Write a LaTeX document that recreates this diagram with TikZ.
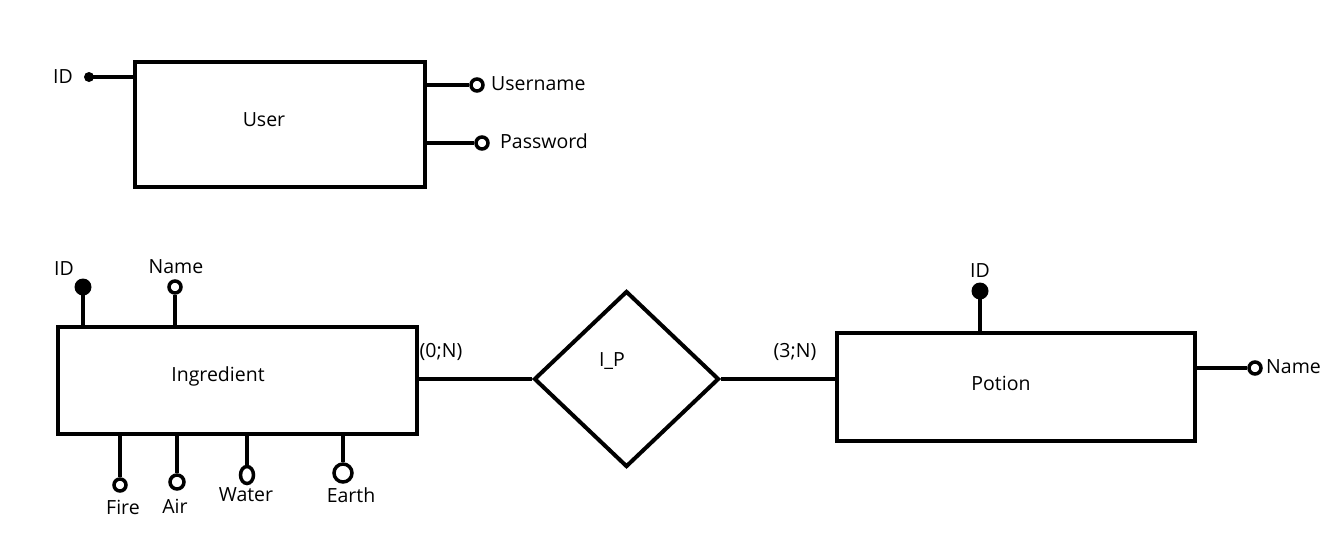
\documentclass[tikz,border=0pt]{standalone}
\usepackage{fontspec}
\setmainfont{Open Sans}
\usetikzlibrary{shapes.geometric}
\begin{document}
\begin{tikzpicture}[x=1pt,y=-1pt,
  ent/.style={draw,line width=4pt,rectangle,inner sep=0pt},
  rel/.style={draw,line width=4pt,diamond,inner sep=0pt},
  conn/.style={line width=4pt},
  keydot/.style={circle,fill,inner sep=0pt,minimum size=#1},
  attrring/.style={circle,draw,line width=3.5pt,inner sep=0pt,minimum size=#1},
  lbl/.style={font=\fontsize{19.5}{21}\selectfont,inner sep=0pt}]
\useasboundingbox (0,0) rectangle (1336,536);
% User
\node[ent,minimum width=290pt,minimum height=125pt] (user) at (280,124.5) {};
\node[lbl] (userT) at (264,120) {User};
\node[keydot=10pt] (uid) at (89,77) {};
\node[lbl] (uidT) at (63,77) {ID};
\node[attrring=12pt] (uname) at (477,85) {};
\node[lbl,anchor=west] (unameT) at (491,84) {Username};
\node[attrring=12pt] (upw) at (482,143) {};
\node[lbl,anchor=west] (upwT) at (500,141) {Password};
\draw[conn] (uid -| user.west) -- (uid.center);
\draw[conn] (uname -| user.east) -- (uname.west);
\draw[conn] (upw -| user.east) -- (upw.west);
% Ingredient
\node[ent,minimum width=359pt,minimum height=107pt] (ing) at (237.5,380.5) {};
\node[lbl] (ingT) at (218,376) {Ingredient};
\node[keydot=17pt] (iid) at (83,287) {};
\node[lbl] (iidT) at (64,269) {ID};
\node[attrring=12pt] (iname) at (175,287) {};
\node[lbl] (inameT) at (176,267) {Name};
\node[attrring=12pt] (fire) at (120,485) {};
\node[lbl] (fireT) at (123,507) {Fire};
\node[attrring=14pt] (air) at (177,482) {};
\node[lbl] (airT) at (175,506) {Air};
\node[attrring=13pt,ellipse,minimum height=17pt] (water) at (247,475) {};
\node[lbl] (waterT) at (246,495) {Water};
\node[attrring=18pt] (earth) at (343,473) {};
\node[lbl] (earthT) at (351,495) {Earth};
\draw[conn] (iid.center) -- (iid.center |- ing.north);
\draw[conn] (iname.south) -- (iname |- ing.north);
\draw[conn] (fire |- ing.south) -- (fire.north);
\draw[conn] (air |- ing.south) -- (air.north);
\draw[conn] (water |- ing.south) -- (water.north);
\draw[conn] (earth |- ing.south) -- (earth.north);
% Relationship
\node[rel,minimum width=185pt,minimum height=176pt] (ip) at (626.5,379) {};
\node[lbl] (ipT) at (612,361) {I\_P};
\node[lbl] (c1) at (441,352) {(0;N)};
\node[lbl] (c2) at (795,352) {(3;N)};
% Potion
\node[ent,minimum width=358pt,minimum height=108pt] (pot) at (1016,387) {};
\node[lbl] (potT) at (1001,383) {Potion};
\node[keydot=17pt] (pid) at (980,291) {};
\node[lbl] (pidT) at (980,271) {ID};
\node[attrring=12pt] (pname) at (1255,368) {};
\node[lbl,anchor=west] (pnameT) at (1266,367) {Name};
\draw[conn] (pid.center) -- (pid |- pot.north);
\draw[conn] (pname -| pot.east) -- (pname.west);
% Relationship lines
\draw[conn] (ip.west -| ing.east) -- (ip.west);
\draw[conn] (ip.east) -- (ip.east -| pot.west);
\end{tikzpicture}
\end{document}
